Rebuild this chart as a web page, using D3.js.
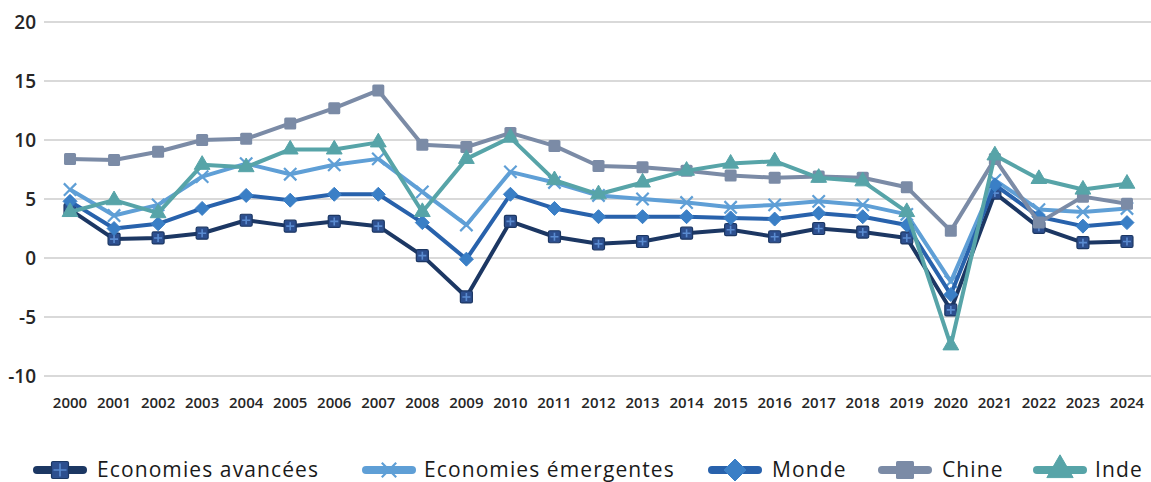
<!DOCTYPE html>
<html>
<head>
<meta charset="utf-8">
<script src="https://cdn.jsdelivr.net/npm/d3@7"></script>
<style>
  body { margin: 0; background: #fff; }
  svg { display: block; }
</style>
</head>
<body>
<div id="chart"></div>
<script>
var years = ["2000","2001","2002","2003","2004","2005","2006","2007","2008","2009","2010","2011","2012",
  "2013","2014","2015","2016","2017","2018","2019","2020","2021","2022","2023","2024"];
var yTicks = [-10, -5, 0, 5, 10, 15, 20];

var avancees = [4.1, 1.6, 1.7, 2.1, 3.2, 2.7, 3.1, 2.7, 0.2, -3.3, 3.1, 1.8, 1.2, 1.4, 2.1, 2.4, 1.8, 2.5, 2.2, 1.7, -4.4, 5.5, 2.6, 1.3, 1.4];
var emergentes = [5.8, 3.6, 4.5, 6.9, 8.0, 7.1, 7.9, 8.4, 5.6, 2.8, 7.3, 6.4, 5.3, 5.0, 4.7, 4.3, 4.5, 4.8, 4.5, 3.7, -2.0, 6.6, 4.1, 3.9, 4.2];
var monde = [4.8, 2.5, 2.9, 4.2, 5.3, 4.9, 5.4, 5.4, 3.0, -0.1, 5.4, 4.2, 3.5, 3.5, 3.5, 3.4, 3.3, 3.8, 3.5, 2.8, -3.1, 6.2, 3.5, 2.7, 3.0];
var chine = [8.4, 8.3, 9.0, 10.0, 10.1, 11.4, 12.7, 14.2, 9.6, 9.4, 10.6, 9.5, 7.8, 7.7, 7.4, 7.0, 6.8, 6.9, 6.8, 6.0, 2.3, 8.4, 3.0, 5.2, 4.6];
var inde = [3.9, 4.9, 3.8, 7.9, 7.7, 9.2, 9.2, 9.8, 3.9, 8.4, 10.2, 6.6, 5.4, 6.4, 7.4, 8.0, 8.2, 6.8, 6.5, 3.9, -7.4, 8.7, 6.7, 5.8, 6.3];

var seriesNames = ["Economies avancées", "Economies émergentes", "Monde", "Chine", "Inde"];

var series = [
  { name: seriesNames[0], values: avancees, line: "#1c3763", marker: "plus", fill: "#2d4f8e", inner: "#5a8bd0", lx: 33, tx: 97, ls: 17 },
  { name: seriesNames[1], values: emergentes, line: "#5f9fd6", marker: "x", fill: "#5f9fd6", lx: 362, tx: 424, ls: 14 },
  { name: seriesNames[2], values: monde, line: "#2862ac", marker: "diamond", fill: "#3a7fc6", lx: 708, tx: 772, ls: 20 },
  { name: seriesNames[3], values: chine, line: "#7b8ba6", marker: "square", fill: "#7b8ba6", lx: 878, tx: 942, ls: 18 },
  { name: seriesNames[4], values: inde, line: "#57a4a8", marker: "triangle", fill: "#57a4a8", lx: 1033, tx: 1095, ls: 20 }
];

var width = 1151, height = 482;
var svg = d3.select("#chart").append("svg")
  .attr("width", width)
  .attr("height", height);

var x = d3.scaleBand().domain(years).range([48, 1149]).padding(0);
var y = d3.scaleLinear().domain([-10, 20]).range([376, 22]);
function cx(d, i) { return x(years[i]) + x.bandwidth() / 2; }

// gridlines
svg.append("g").selectAll("line")
  .data(yTicks)
  .enter().append("line")
  .attr("x1", 44).attr("x2", width)
  .attr("y1", function (d) { return y(d); })
  .attr("y2", function (d) { return y(d); })
  .attr("stroke", "#d9d9d9")
  .attr("stroke-width", 2);

// y labels
svg.append("g").selectAll("text")
  .data(yTicks)
  .enter().append("text")
  .attr("x", 36)
  .attr("y", function (d) { return y(d) + 7; })
  .attr("text-anchor", "end")
  .attr("font-family", "Open Sans, sans-serif")
  .attr("font-size", "19px")
  .attr("font-weight", 600)
  .attr("fill", "#262626")
  .text(function (d) { return d; });

// x labels
svg.append("g").selectAll("text")
  .data(years)
  .enter().append("text")
  .attr("x", function (d) { return x(d) + x.bandwidth() / 2; })
  .attr("y", 408)
  .attr("text-anchor", "middle")
  .attr("font-family", "Open Sans, sans-serif")
  .attr("font-size", "15px")
  .attr("font-weight", 600)
  .attr("fill", "#262626")
  .text(function (d) { return d; });

function drawMarker(g, s, px, py, size) {
  var m = g.append("g").attr("transform", "translate(" + px + "," + py + ")");
  var h = size / 2;
  if (s.marker === "plus") {
    m.append("rect").attr("x", -h).attr("y", -h)
      .attr("width", size).attr("height", size).attr("rx", 1.5)
      .attr("fill", s.fill).attr("stroke", s.line).attr("stroke-width", 1.2);
    m.append("path").attr("d", "M" + (-h + 2) + ",0H" + (h - 2) + "M0," + (-h + 2) + "V" + (h - 2))
      .attr("stroke", s.inner).attr("stroke-width", 1.6);
  } else if (s.marker === "x") {
    m.append("path").attr("d", d3.symbol(d3.symbolX, size * size * 0.7)())
      .attr("fill", "none").attr("stroke", s.fill).attr("stroke-width", 2.2);
  } else if (s.marker === "diamond") {
    m.append("path").attr("d", "M0," + (-h - 1) + "L" + (h + 1) + ",0L0," + (h + 1) + "L" + (-h - 1) + ",0Z")
      .attr("fill", s.fill).attr("stroke", s.fill).attr("stroke-width", 1)
      .attr("stroke-linejoin", "round");
  } else if (s.marker === "square") {
    m.append("rect").attr("x", -h).attr("y", -h)
      .attr("width", size).attr("height", size).attr("rx", 1.5)
      .attr("fill", s.fill);
  } else if (s.marker === "triangle") {
    m.append("path").attr("d", d3.symbol(d3.symbolTriangle, size * size * 0.75)())
      .attr("fill", s.fill).attr("stroke", s.fill).attr("stroke-width", 1)
      .attr("stroke-linejoin", "round");
  }
}

var line = d3.line()
  .x(function (d, i) { return cx(d, i); })
  .y(function (d) { return y(d); });

series.forEach(function (s) {
  var g = svg.append("g");
  g.append("path")
    .attr("d", line(s.values))
    .attr("fill", "none")
    .attr("stroke", s.line)
    .attr("stroke-width", 4)
    .attr("stroke-linejoin", "round");
  s.values.forEach(function (v, i) {
    drawMarker(g, s, cx(v, i), y(v), 12);
  });
});

// legend
var legendY = 470;
series.forEach(function (s) {
  var g = svg.append("g");
  g.append("line")
    .attr("x1", s.lx + 4).attr("x2", s.lx + 50)
    .attr("y1", legendY).attr("y2", legendY)
    .attr("stroke", s.line).attr("stroke-width", 8)
    .attr("stroke-linecap", "round");
  drawMarker(g, s, s.lx + 27, legendY, s.ls);
  g.append("text")
    .attr("x", s.tx)
    .attr("y", legendY + 7)
    .attr("font-family", "Open Sans, sans-serif")
    .attr("font-size", "21px")
    .attr("letter-spacing", "1.1px")
    .attr("fill", "#1a1a1a")
    .text(s.name);
});
</script>
</body>
</html>
